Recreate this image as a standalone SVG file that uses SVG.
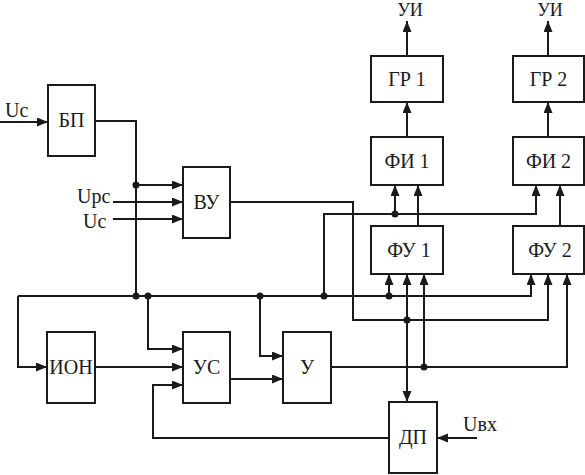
<svg xmlns="http://www.w3.org/2000/svg" width="585" height="475" viewBox="0 0 585 475">
<style>
.box{fill:#fff;stroke:#1a1a1a;stroke-width:2}
.ln{fill:none;stroke:#1a1a1a;stroke-width:2}
.ar{marker-end:url(#ah)}
.dot{fill:#1a1a1a}
text{font-family:"Liberation Serif","Times New Roman",serif;font-size:20px;fill:#1a1a1a}
.c{text-anchor:middle}
.top{font-size:18px}
</style>
<defs>
<marker id="ah" markerUnits="userSpaceOnUse" markerWidth="12" markerHeight="10" refX="11" refY="4.5" orient="auto">
<path d="M0,0 L11,4.5 L0,9 z" fill="#1a1a1a"/>
</marker>
</defs>
<rect width="585" height="475" fill="#fff"/>
<g id="connectors">
<path class="ln ar" d="M0,122 H48"/>
<path class="ln" d="M95,121 H136 V296"/>
<path class="ln ar" d="M136,185 H183"/>
<path class="ln ar" d="M113,202 H183"/>
<path class="ln ar" d="M113,219 H183"/>
<path class="ln ar" d="M18,296 V367 H47"/>
<path class="ln ar" d="M18,296 H531 V274"/>
<path class="ln ar" d="M148,296 V349 H183"/>
<path class="ln ar" d="M95,367 H183"/>
<path class="ln ar" d="M389,438 H153 V385 H183"/>
<path class="ln ar" d="M260,296 V356 H283"/>
<path class="ln ar" d="M230,379 H283"/>
<path class="ln ar" d="M230,202 H353 V320 H548 V274"/>
<path class="ln ar" d="M407,320 V274"/>
<path class="ln ar" d="M407,320 V402"/>
<path class="ln ar" d="M331,367 H567 V274"/>
<path class="ln ar" d="M424,367 V274"/>
<path class="ln ar" d="M389,296 V274"/>
<path class="ln ar" d="M324,296 V214 H536 V185"/>
<path class="ln ar" d="M395,214 V185"/>
<path class="ln ar" d="M418,226 V185"/>
<path class="ln ar" d="M560,226 V185"/>
<path class="ln ar" d="M407,137 V102"/>
<path class="ln ar" d="M548,137 V102"/>
<path class="ln ar" d="M407,56 V21"/>
<path class="ln ar" d="M548,56 V21"/>
<path class="ln ar" d="M477,438 H437"/>
<circle class="dot" cx="136" cy="185" r="3.5"/>
<circle class="dot" cx="136" cy="296" r="3.5"/>
<circle class="dot" cx="148" cy="296" r="3.5"/>
<circle class="dot" cx="260" cy="296" r="3.5"/>
<circle class="dot" cx="324" cy="296" r="3.5"/>
<circle class="dot" cx="389" cy="296" r="3.5"/>
<circle class="dot" cx="395" cy="214" r="3.5"/>
<circle class="dot" cx="407" cy="320" r="3.5"/>
<circle class="dot" cx="424" cy="367" r="3.5"/>
</g>
<g id="labels">
<text x="5" y="117">Uc</text>
<text x="77" y="203">Upc</text>
<text x="83" y="228">Uc</text>
<text x="463" y="431">Uвх</text>
<text class="c top" x="410" y="16">УИ</text>
<text class="c top" x="550" y="16">УИ</text>
</g>
<g id="bp"><rect class="box" x="48" y="85" width="47" height="71"/><text class="c" x="71.5" y="127">БП</text></g>
<g id="vu"><rect class="box" x="183" y="167" width="47" height="71"/><text class="c" x="206.5" y="209">ВУ</text></g>
<g id="ion"><rect class="box" x="47" y="332" width="48" height="71"/><text class="c" x="71" y="374">ИОН</text></g>
<g id="us"><rect class="box" x="183" y="332" width="47" height="71"/><text class="c" x="206.5" y="374">УС</text></g>
<g id="u"><rect class="box" x="283" y="332" width="48" height="71"/><text class="c" x="307" y="374">У</text></g>
<g id="dp"><rect class="box" x="389" y="402" width="48" height="71"/><text class="c" x="413" y="444">ДП</text></g>
<g id="gr1"><rect class="box" x="371" y="56" width="72" height="46"/><text class="c" x="407" y="86">ГР 1</text></g>
<g id="gr2"><rect class="box" x="513" y="56" width="71" height="46"/><text class="c" x="548.5" y="86">ГР 2</text></g>
<g id="fi1"><rect class="box" x="371" y="137" width="72" height="48"/><text class="c" x="407" y="168">ФИ 1</text></g>
<g id="fi2"><rect class="box" x="513" y="137" width="71" height="48"/><text class="c" x="548.5" y="168">ФИ 2</text></g>
<g id="fu1"><rect class="box" x="371" y="226" width="72" height="48"/><text class="c" x="409" y="257">ФУ 1</text></g>
<g id="fu2"><rect class="box" x="513" y="226" width="71" height="48"/><text class="c" x="550" y="257">ФУ 2</text></g>
</svg>
